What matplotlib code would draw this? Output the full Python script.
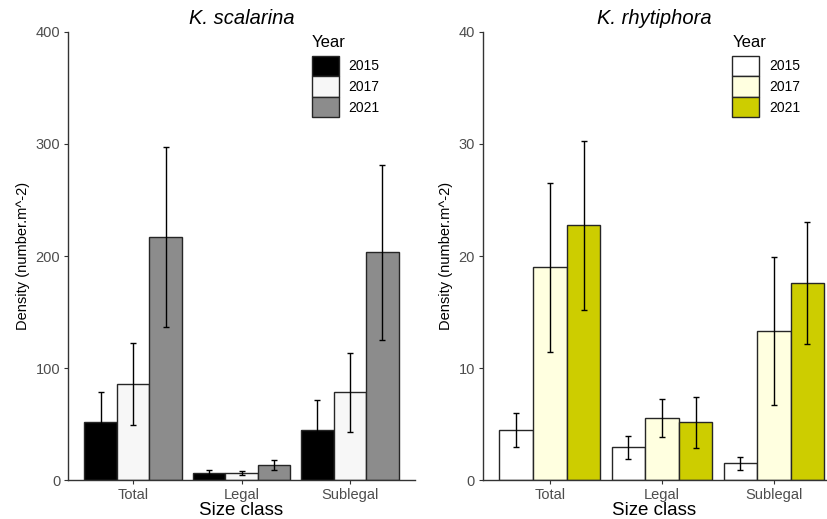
import matplotlib.pyplot as plt
import numpy as np
from matplotlib.patches import Patch

plt.rcParams['font.family'] = ['Liberation Sans', 'DejaVu Sans']

size_classes = ['Total', 'Legal', 'Sublegal']
years = ['2015', '2017', '2021']

# K. scalarina densities (rows = year, cols = size class) and error half-widths
scal_mean = [[51.5, 6.5, 44.6],
             [85.4, 6.3, 78.3],
             [217.0, 13.1, 203.3]]
scal_err = [[27.5, 2.4, 27.0],
            [36.5, 2.0, 35.0],
            [80.0, 4.6, 78.0]]

# K. rhytiphora
rhyt_mean = [[4.45, 2.93, 1.49],
             [19.0, 5.57, 13.33],
             [22.75, 5.15, 17.6]]
rhyt_err = [[1.5, 1.03, 0.6],
            [7.55, 1.7, 6.6],
            [7.55, 2.3, 5.45]]

scal_colors = ['#000000', '#F7F7F7', '#8C8C8C']
rhyt_colors = ['#FFFFFF', '#FFFFE0', '#CDCD00']

fig = plt.figure(figsize=(8.27, 5.19), dpi=100)
ax1 = fig.add_axes([68 / 827, 39 / 519, 347 / 827, 448 / 519])
ax2 = fig.add_axes([482.7 / 827, 39 / 519, 343.3 / 827, 448 / 519])

grey = '#4D4D4D'
edge = '#262626'


def draw_panel(ax, means, errs, colors, title, ymax, xmax, leg_x):
    x = np.arange(1, len(size_classes) + 1)
    w = 0.3
    for i, yr in enumerate(years):
        pos = x + (i - 1) * w
        ax.bar(pos, means[i], width=w, color=colors[i], edgecolor=edge,
               linewidth=1.0, label=yr, zorder=2)
        ax.errorbar(pos, means[i], yerr=errs[i], fmt='none', ecolor='black',
                    elinewidth=1.0, capsize=2, capthick=1.0, zorder=3)
    ax.set_xlim(0.4, xmax)
    ax.set_ylim(0, ymax)
    ax.set_yticks(np.linspace(0, ymax, 5))
    ax.set_xticks(x)
    ax.set_xticklabels(size_classes)
    for s in ['top', 'right']:
        ax.spines[s].set_visible(False)
    for s in ['left', 'bottom']:
        ax.spines[s].set_color('#333333')
        ax.spines[s].set_linewidth(1.0)
    ax.tick_params(axis='both', colors='#333333', labelcolor=grey,
                   labelsize=10.5, length=3, width=0.8, pad=2.5)
    ax.set_title(title, fontsize=14.5, style='italic', pad=6)
    ax.set_xlabel('Size class', fontsize=13.5, labelpad=0)
    ax.set_ylabel('Density (number.m^-2)', fontsize=10.5, labelpad=4)
    handles = [Patch(facecolor=c, edgecolor=edge, linewidth=1.0) for c in colors]
    leg = ax.legend(handles, years, title='Year', frameon=False, loc='upper left',
                    bbox_to_anchor=(leg_x, 0.993), fontsize=10, title_fontsize=12,
                    handlelength=1.95, handleheight=1.9, labelspacing=0.0,
                    handletextpad=0.7, borderaxespad=0.0, borderpad=0.0)
    leg._legend_box.align = 'left'
    leg._legend_box.sep = 4


draw_panel(ax1, scal_mean, scal_err, scal_colors, 'K. scalarina', 400, 3.6, 0.702)
draw_panel(ax2, rhyt_mean, rhyt_err, rhyt_colors, 'K. rhytiphora', 40,
           0.4 + 343.3 / 112, 0.727)

fig.savefig('out.png', dpi=100)
